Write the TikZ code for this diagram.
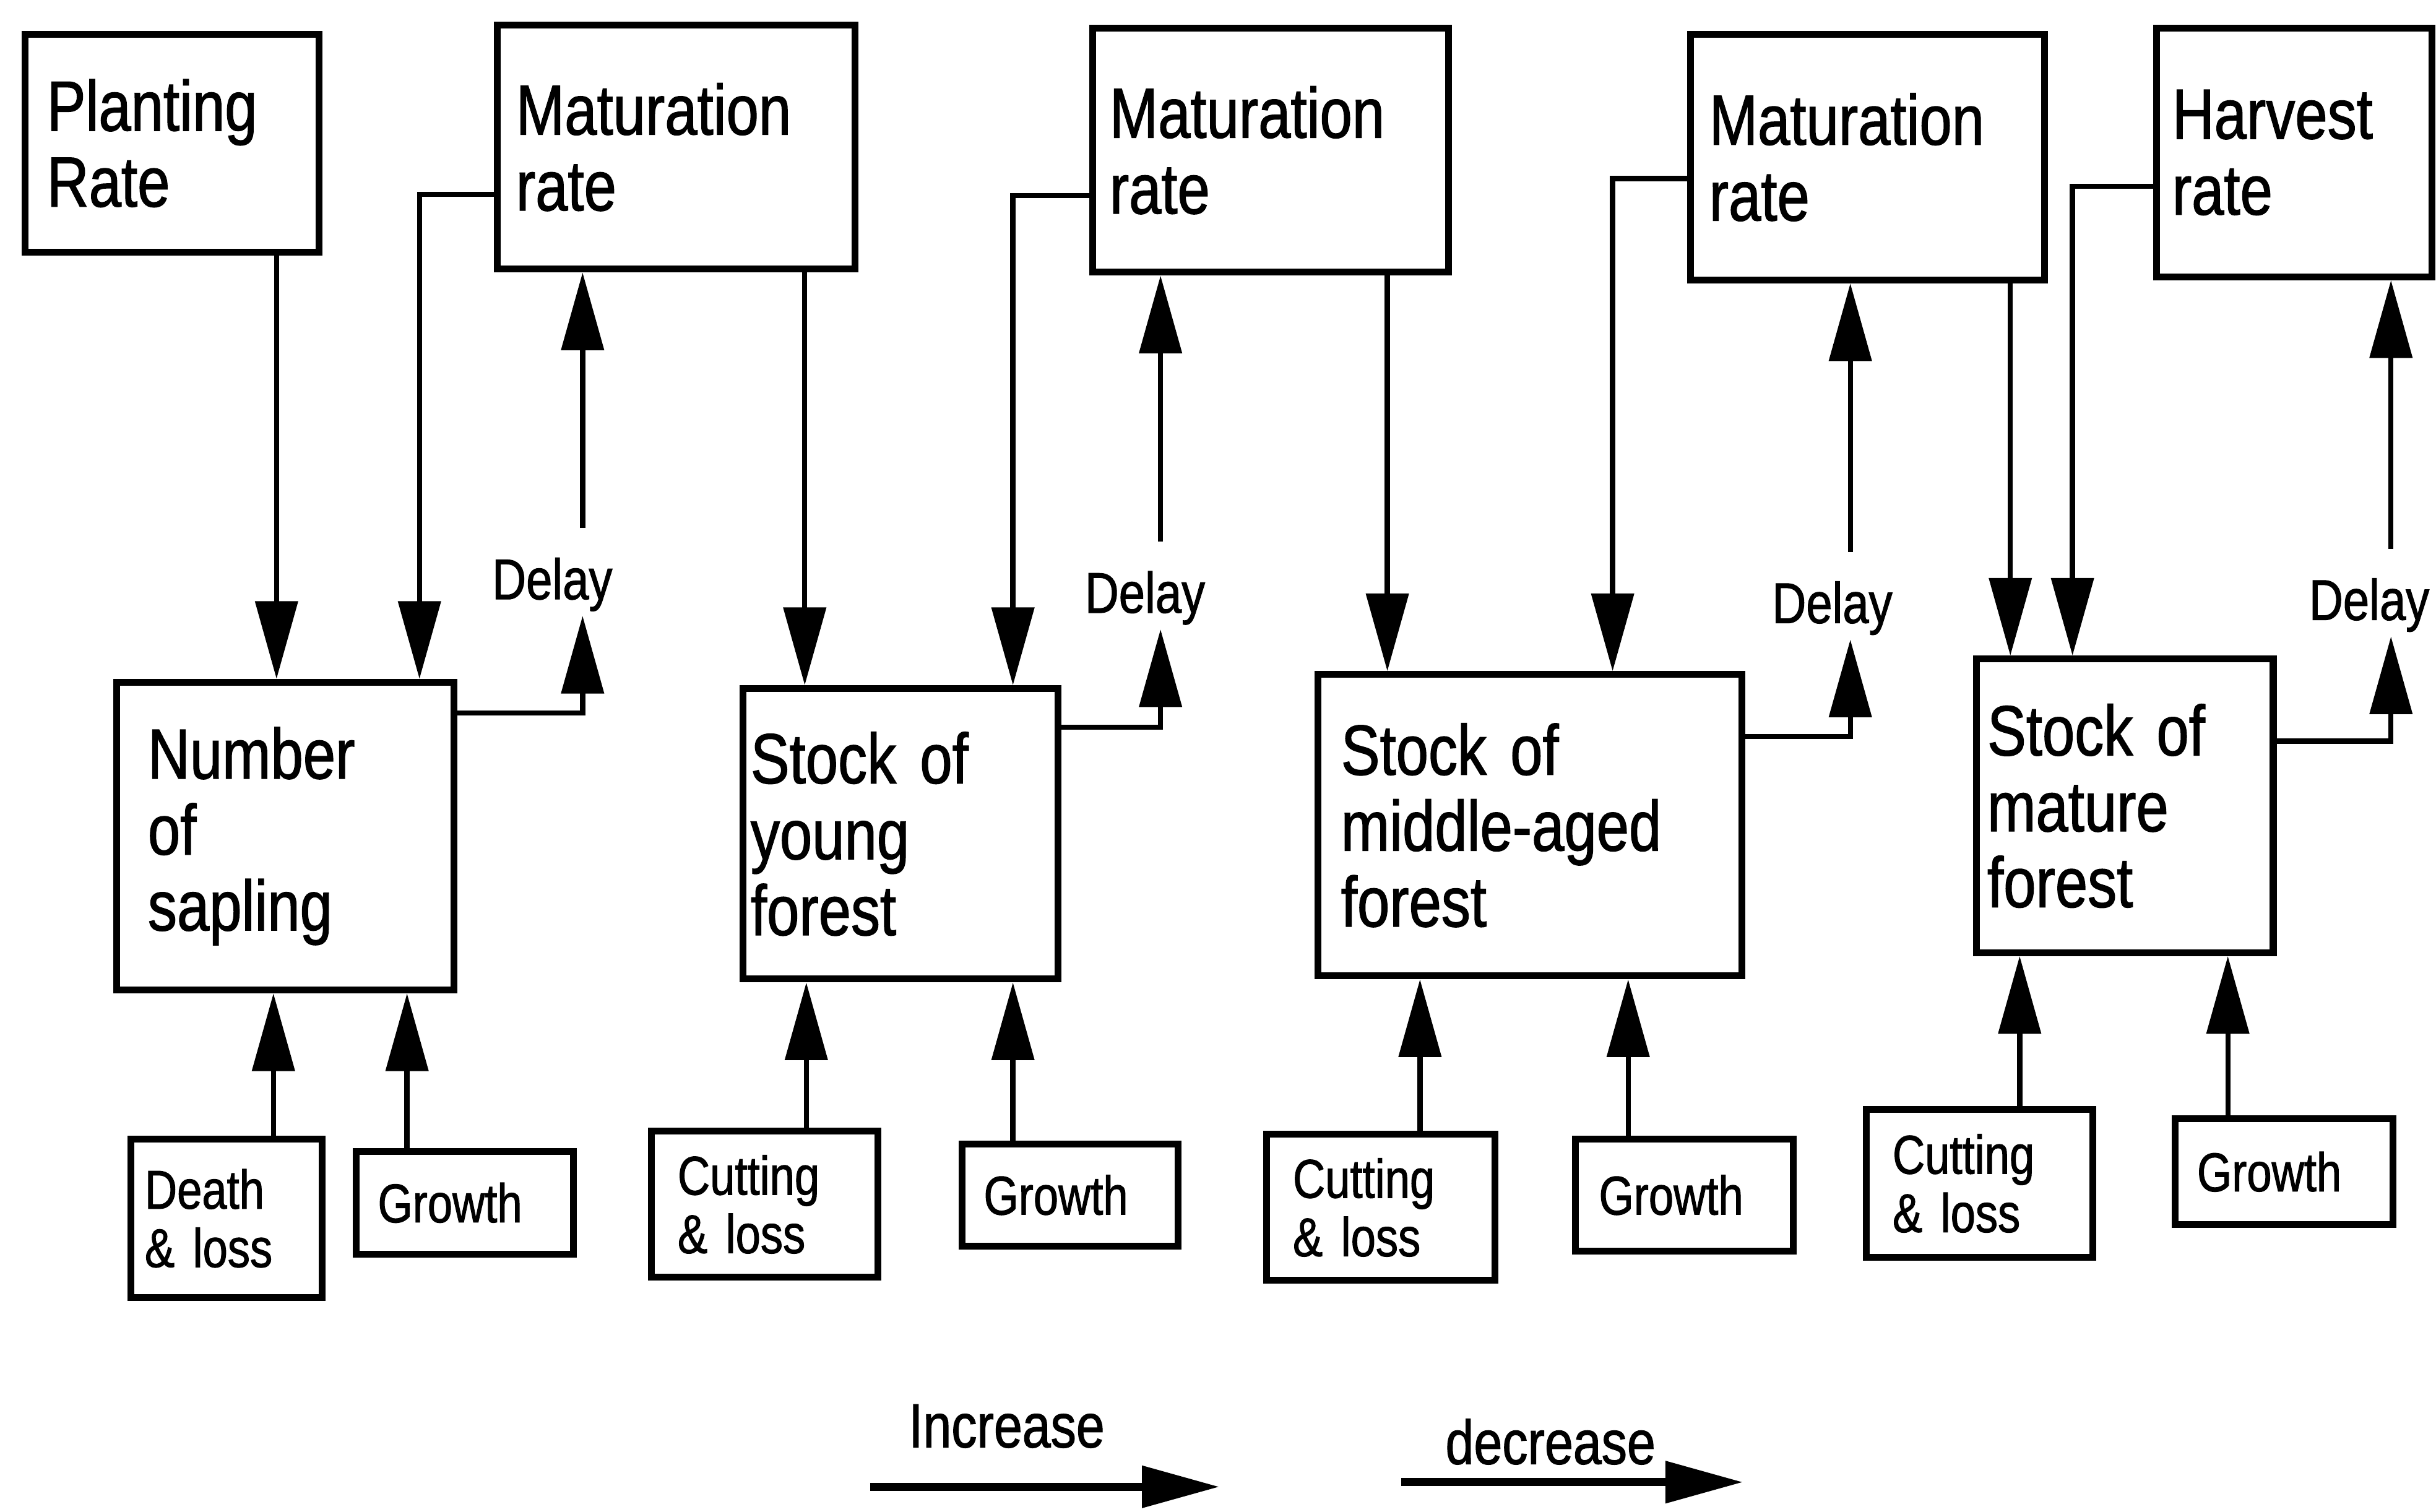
\documentclass[tikz,border=0pt]{standalone}
\usepackage{fontspec}
\setmainfont{Liberation Sans}[FakeStretch=0.82, FakeBold=1.2]
\usetikzlibrary{arrows.meta}

\newcommand{\bigtext}{\fontsize{13}{13.9}\selectfont}
\newcommand{\smalltext}{\fontsize{10}{10.7}\selectfont}

\begin{document}
\begin{tikzpicture}[
        box/.style={draw, line width=1.25pt, anchor=north west, inner sep=0.5mm, align=left, font=\bigtext},
        smallbox/.style={box, font=\smalltext},
        delay/.style={anchor=base, inner sep=0pt, text height=4.5mm, text depth=1mm, font=\fontsize{10.5}{12}\selectfont},
        flow/.style={line width=0.95pt, -{Triangle[length=5mm, width=2.7mm]}},
        legendtext/.style={font=\fontsize{11.4}{13}\selectfont},
        legendarrow/.style={line width=1.5pt, -{Triangle[length=5mm, width=2.6mm]}}
    ]
    \useasboundingbox (0,0) rectangle (15.68,-9.73);

    % rate boxes
    \node[box, minimum width=1.89cm, minimum height=1.40cm, text width=1.61cm] (plant) at (0.14,-0.20) {Planting\\Rate};
    \node[box, minimum width=2.30cm, minimum height=1.57cm, text width=2.06cm] (mat1) at (3.18,-0.14) {Maturation\\rate};
    \node[box, minimum width=2.29cm, minimum height=1.57cm, text width=2.07cm] (mat2) at (7.01,-0.16) {Maturation\\rate};
    \node[box, minimum width=2.28cm, minimum height=1.58cm, text width=2.04cm] (mat3) at (10.86,-0.20) {Maturation\\rate};
    \node[box, minimum width=1.77cm, minimum height=1.60cm, text width=1.57cm] (harv) at (13.86,-0.16) {Harvest\\rate};

    % stocks
    \node[box, minimum width=2.17cm, minimum height=1.98cm, text width=1.77cm] (sap) at (0.73,-4.37) {Number\\of\\sapling};
    \node[box, minimum width=2.03cm, minimum height=1.87cm, text width=1.93cm] (young) at (4.76,-4.41) {Stock of\\young\\forest};
    \node[box, minimum width=2.73cm, minimum height=1.94cm, text width=2.43cm] (middle) at (8.46,-4.32) {Stock of\\middle-aged\\forest};
    \node[box, minimum width=1.91cm, minimum height=1.89cm, text width=1.77cm] (mature) at (12.70,-4.22) {Stock of\\mature\\forest};

    % inputs below
    \node[smallbox, minimum width=1.23cm, minimum height=1.02cm, text width=1.05cm] (death) at (0.82,-7.31) {Death\\\& loss};
    \node[smallbox, minimum width=1.40cm, minimum height=0.66cm, text width=1.12cm] (grow1) at (2.27,-7.39) {Growth};
    \node[smallbox, minimum width=1.46cm, minimum height=0.94cm, text width=1.12cm] (cut1) at (4.17,-7.26) {Cutting\\\& loss};
    \node[smallbox, minimum width=1.39cm, minimum height=0.66cm, text width=1.11cm] (grow2) at (6.17,-7.34) {Growth};
    \node[smallbox, minimum width=1.47cm, minimum height=0.94cm, text width=1.13cm] (cut2) at (8.13,-7.28) {Cutting\\\& loss};
    \node[smallbox, minimum width=1.40cm, minimum height=0.72cm, text width=1.10cm] (grow3) at (10.12,-7.31) {Growth};
    \node[smallbox, minimum width=1.46cm, minimum height=0.95cm, text width=1.12cm] (cut3) at (11.99,-7.12) {Cutting\\\& loss};
    \node[smallbox, minimum width=1.40cm, minimum height=0.68cm, text width=1.12cm] (grow4) at (13.98,-7.18) {Growth};

    % delays
    \node[delay] (d1) at (3.555,-3.857) {Delay};
    \node[delay] (d2) at (7.37,-3.944) {Delay};
    \node[delay] (d3) at (11.794,-4.01) {Delay};
    \node[delay] (d4) at (15.25,-3.99) {Delay};

    % sapling
    \draw[flow] (plant.south -| 1.78,0) -- (sap.north -| 1.78,0);
    \draw[flow] (mat1.west |- 0,-1.25) -| (sap.north -| 2.70,0);
    \draw[flow] (sap.east |- 0,-4.59) -| (d1.south -| 3.75,0);
    \draw[flow] (d1.north -| 3.75,0) -- (mat1.south -| 3.75,0);
    \draw[flow] (death.north -| 1.76,0) -- (sap.south -| 1.76,0);
    \draw[flow] (grow1.north -| 2.62,0) -- (sap.south -| 2.62,0);

    % young forest
    \draw[flow] (mat1.south -| 5.18,0) -- (young.north -| 5.18,0);
    \draw[flow] (mat2.west |- 0,-1.26) -| (young.north -| 6.52,0);
    \draw[flow] (young.east |- 0,-4.68) -| (d2.south -| 7.47,0);
    \draw[flow] (d2.north -| 7.47,0) -- (mat2.south -| 7.47,0);
    \draw[flow] (cut1.north -| 5.19,0) -- (young.south -| 5.19,0);
    \draw[flow] (grow2.north -| 6.52,0) -- (young.south -| 6.52,0);

    % middle-aged forest
    \draw[flow] (mat2.south -| 8.93,0) -- (middle.north -| 8.93,0);
    \draw[flow] (mat3.west |- 0,-1.15) -| (middle.north -| 10.38,0);
    \draw[flow] (middle.east |- 0,-4.74) -| (d3.south -| 11.91,0);
    \draw[flow] (d3.north -| 11.91,0) -- (mat3.south -| 11.91,0);
    \draw[flow] (cut2.north -| 9.14,0) -- (middle.south -| 9.14,0);
    \draw[flow] (grow3.north -| 10.48,0) -- (middle.south -| 10.48,0);

    % mature forest
    \draw[flow] (mat3.south -| 12.94,0) -- (mature.north -| 12.94,0);
    \draw[flow] (harv.west |- 0,-1.20) -| (mature.north -| 13.34,0);
    \draw[flow] (mature.east |- 0,-4.77) -| (d4.south -| 15.39,0);
    \draw[flow] (d4.north -| 15.39,0) -- (harv.south -| 15.39,0);
    \draw[flow] (cut3.north -| 13.00,0) -- (mature.south -| 13.00,0);
    \draw[flow] (grow4.north -| 14.34,0) -- (mature.south -| 14.34,0);

    % legend
    \node[legendtext] (inc) at (6.48,-9.18) {Increase};
    \node[legendtext] (dec) at (9.98,-9.28) {decrease};
    \coordinate (inc-s) at (5.60,-9.57);
    \coordinate (inc-e) at (7.85,-9.57);
    \coordinate (dec-s) at (9.02,-9.54);
    \coordinate (dec-e) at (11.22,-9.54);
    \draw[legendarrow] (inc-s) -- (inc-e);
    \draw[legendarrow] (dec-s) -- (dec-e);
\end{tikzpicture}
\end{document}
